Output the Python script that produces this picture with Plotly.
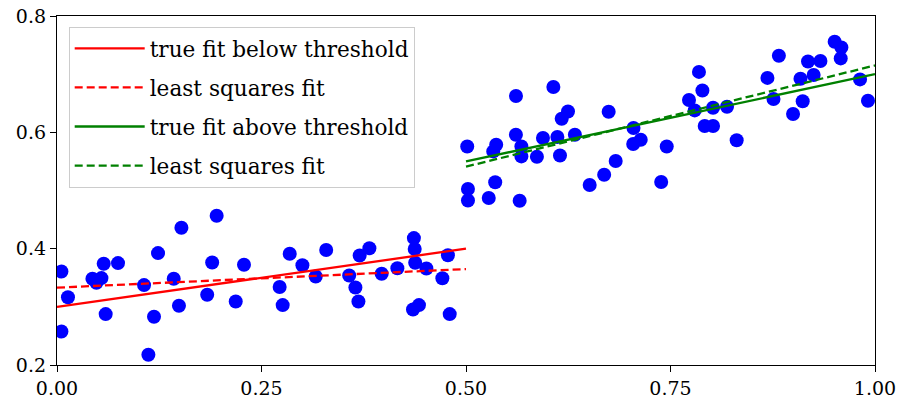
import plotly.graph_objects as go

# ---- data ----
x_below = [0.0054, 0.0134, 0.0054, 0.0433, 0.0543, 0.0482, 0.0571, 0.0746, 0.0595, 0.1064,
           0.1117, 0.1186, 0.1235, 0.1427, 0.1491, 0.1521, 0.1836, 0.1897, 0.1952, 0.2185,
           0.2286, 0.2722, 0.2759, 0.2845, 0.3000, 0.3163, 0.3291, 0.3572, 0.3648, 0.3685,
           0.3700, 0.3819, 0.3969, 0.4161, 0.4363, 0.4373, 0.4379, 0.4516, 0.4352, 0.4425,
           0.4711, 0.4779, 0.4801]
y_below = [0.3608, 0.3164, 0.2576, 0.3482, 0.3494, 0.3414, 0.3740, 0.3752, 0.2875, 0.3374,
           0.2175, 0.2829, 0.3924, 0.3482, 0.3018, 0.4359, 0.3207, 0.3763, 0.4566, 0.3092,
           0.3723, 0.3340, 0.3030, 0.3912, 0.3714, 0.3522, 0.3976, 0.3539, 0.3333, 0.3092,
           0.3883, 0.4007, 0.3568, 0.3663, 0.4182, 0.3995, 0.3757, 0.3659, 0.2954, 0.3030,
           0.3491, 0.3886, 0.2875]

x_above = [0.5015, 0.5024, 0.5024, 0.5278, 0.5357, 0.5333, 0.5369, 0.5611, 0.5610, 0.5677,
           0.5677, 0.5656, 0.5867, 0.5941, 0.6068, 0.6117, 0.6149, 0.6170, 0.6247, 0.6331,
           0.6512, 0.6689, 0.6744, 0.6830, 0.7048, 0.7136, 0.7044, 0.7386, 0.7454, 0.7726,
           0.7796, 0.7848, 0.7890, 0.7918, 0.8020, 0.8020, 0.8191, 0.8309, 0.8685, 0.8825,
           0.8759, 0.8998, 0.9116, 0.9089, 0.9181, 0.9250, 0.9333, 0.9507, 0.9589, 0.9581,
           0.9817, 0.9914]
y_above = [0.5757, 0.5025, 0.4827, 0.4870, 0.5142, 0.5672, 0.5787, 0.6624, 0.5959, 0.5757,
           0.5586, 0.4824, 0.5580, 0.5902, 0.6779, 0.5919, 0.5603, 0.6234, 0.6359, 0.5959,
           0.5094, 0.5271, 0.6354, 0.5508, 0.6074, 0.5873, 0.5799, 0.5145, 0.5757, 0.6555,
           0.6377, 0.7039, 0.6719, 0.6108, 0.6108, 0.6423, 0.6440, 0.5864, 0.6936, 0.7317,
           0.6573, 0.6316, 0.6535, 0.6922, 0.7219, 0.6985, 0.7226, 0.7558, 0.7460, 0.7271,
           0.6910, 0.6543]

line_x_below = [0.0, 0.5]
true_below = [0.300, 0.400]
lsq_below = [0.333, 0.365]
line_x_above = [0.5, 1.0]
true_above = [0.550, 0.700]
lsq_above = [0.541, 0.715]

x_ticks = [0.0, 0.25, 0.5, 0.75, 1.0]
x_tick_labels = ["0.00", "0.25", "0.50", "0.75", "1.00"]
y_ticks = [0.2, 0.4, 0.6, 0.8]
y_tick_labels = ["0.2", "0.4", "0.6", "0.8"]

FONT = "DejaVu Serif"
RED = "#ff0000"
GREEN = "#008000"

fig = go.Figure()
fig.add_trace(go.Scatter(x=x_below + x_above, y=y_below + y_above, mode="markers",
                         marker=dict(color="#0000ff", size=14, line=dict(width=0)),
                         showlegend=False))
fig.add_trace(go.Scatter(x=line_x_below, y=true_below, mode="lines", name="true fit below threshold",
                         legendgroup="a", line=dict(color=RED, width=2.3)))
fig.add_trace(go.Scatter(x=line_x_below, y=lsq_below, mode="lines", name="least squares fit",
                         legendgroup="b", line=dict(color=RED, width=2.3, dash="8px,4px")))
fig.add_trace(go.Scatter(x=line_x_above, y=true_above, mode="lines", name="true fit above threshold",
                         legendgroup="c", line=dict(color=GREEN, width=2.3)))
fig.add_trace(go.Scatter(x=line_x_above, y=lsq_above, mode="lines", name="least squares fit",
                         legendgroup="d", line=dict(color=GREEN, width=2.3, dash="8px,4px")))

axis_common = dict(showgrid=False, zeroline=False, showline=True, linecolor="black", linewidth=1.3,
                   mirror=True, ticks="outside", ticklen=6, tickwidth=1.3, tickcolor="black",
                   automargin=False,
                   tickfont=dict(family=FONT, size=19, color="black"))
fig.update_xaxes(range=[0, 1], tickvals=x_ticks, ticktext=x_tick_labels, **axis_common)
fig.update_yaxes(range=[0.2, 0.8], tickvals=y_ticks, ticktext=y_tick_labels, **axis_common)

fig.update_layout(
    width=899, height=405,
    margin=dict(l=57, r=24, t=16, b=40, autoexpand=False),
    plot_bgcolor="white", paper_bgcolor="white",
    font=dict(family=FONT, size=19, color="black"),
    legend=dict(x=0.0143, y=0.969, xanchor="left", yanchor="top",
                bgcolor="rgba(255,255,255,0.85)", bordercolor="#cccccc", borderwidth=1,
                font=dict(family=FONT, size=21.6, color="black"),
                traceorder="grouped", tracegroupgap=8, itemwidth=70),
)

fig.write_html("out.html", config={"displayModeBar": False},
               post_script="document.body.style.margin='0';document.body.style.padding='0';")
